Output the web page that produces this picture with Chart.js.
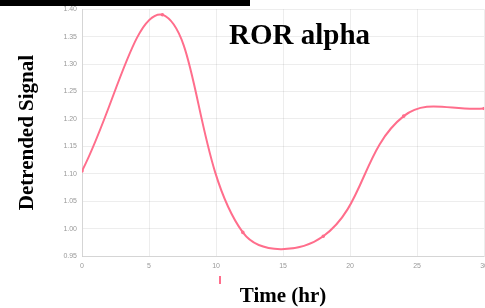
<!DOCTYPE html>
<html>
<head>
<meta charset="utf-8">
<script src="https://cdn.jsdelivr.net/npm/chart.js@4/dist/chart.umd.min.js"></script>
<style>
  html, body { margin: 0; padding: 0; background: #fff; overflow: hidden; }
  #wrap { position: relative; width: 485px; height: 308px; overflow: hidden; }
  #box { position: absolute; left: 0; top: 0; width: 494px; height: 308px; }
  #topbar { position: absolute; left: 0; top: 0; width: 250px; height: 6px; background: #000; }
  #title { position: absolute; left: 229px; top: 18px; font: bold 29px "Liberation Serif", "Times New Roman", serif; color: #000; white-space: nowrap; }
  #tick { position: absolute; left: 219px; top: 276px; width: 2px; height: 8px; background: rgb(255, 110, 140); }
</style>
</head>
<body>
<div id="wrap">
  <div id="box"><canvas id="ror-chart"></canvas></div>
  <div id="topbar"></div>
  <div id="title">ROR alpha</div>
  <div id="tick"></div>
</div>
<script>
var hours = [0, 6, 12, 18, 24, 30];
var signal = [1.105, 1.39, 0.993, 0.986, 1.205, 1.219];
var xTicks = [0, 5, 10, 15, 20, 25, 30];
var yTicks = [0.95, 1.00, 1.05, 1.10, 1.15, 1.20, 1.25, 1.30, 1.35, 1.40];

var points = [];
for (var i = 0; i < hours.length; i++) {
  points.push({x: hours[i], y: signal[i]});
}

var serif = '"Liberation Serif", "Times New Roman", serif';
var pink = 'rgb(255, 110, 140)';
var ctx = document.getElementById('ror-chart').getContext('2d');

var rorChart = new Chart(ctx, {
  type: 'line',
  data: {
    datasets: [{
      label: 'ROR alpha',
      data: points,
      borderColor: pink,
      backgroundColor: pink,
      borderWidth: 2,
      pointRadius: 0.8,
      pointHoverRadius: 0.8,
      fill: false,
      tension: 0.4
    }]
  },
  options: {
    responsive: true,
    maintainAspectRatio: false,
    animation: false,
    layout: { padding: { top: 7, right: 0, bottom: 0, left: 0 } },
    plugins: {
      legend: { display: false },
      tooltip: { enabled: false }
    },
    scales: {
      x: {
        type: 'linear',
        min: 0,
        max: 30,
        afterBuildTicks: function(scale) {
          scale.ticks = xTicks.map(function(v) { return {value: v}; });
        },
        grid: { color: 'rgba(0,0,0,0.07)', drawTicks: false },
        border: { color: 'rgba(0,0,0,0.1)' },
        ticks: { color: '#999', font: { size: 7 }, padding: 6, maxRotation: 0 },
        title: {
          display: true,
          text: 'Time (hr)',
          color: '#000',
          font: { family: serif, size: 21, weight: 'bold', lineHeight: 1 },
          padding: { top: 0, bottom: 1 }
        },
        afterFit: function(scale) { scale.height = 52; }
      },
      y: {
        min: 0.95,
        max: 1.40,
        afterBuildTicks: function(scale) {
          scale.ticks = yTicks.map(function(v) { return {value: v}; });
        },
        grid: { color: 'rgba(0,0,0,0.07)', drawTicks: false },
        border: { color: 'rgba(0,0,0,0.1)' },
        ticks: {
          color: '#999',
          font: { size: 7 },
          padding: 5,
          callback: function(v) { return v.toFixed(2); }
        },
        title: {
          display: true,
          text: 'Detrended Signal',
          color: '#000',
          font: { family: serif, size: 21, weight: 'bold', lineHeight: 1 },
          padding: { top: 17, bottom: 0 }
        },
        afterFit: function(scale) { scale.width = 82; }
      }
    }
  }
});
</script>
</body>
</html>
